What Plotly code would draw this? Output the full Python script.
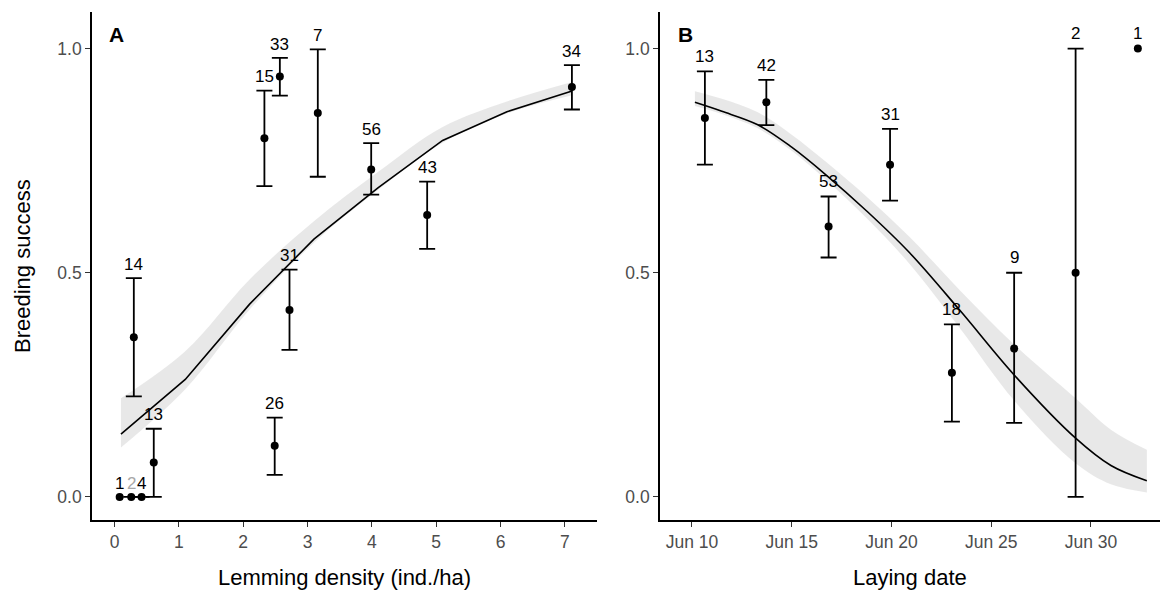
import datetime as dt
import plotly.graph_objects as go

# ---------------- Panel A data ----------------
labels_a = ["1", "2", "4", "13", "14", "15", "26", "33", "31", "7", "56", "43", "34"]
dens_a = [0.08, 0.26, 0.42, 0.61, 0.30, 2.33, 2.49, 2.57, 2.72, 3.16, 3.99, 4.86, 7.11]
succ_a = [0.0, 0.0, 0.0, 0.077, 0.356, 0.80, 0.114, 0.9375, 0.417, 0.856, 0.730, 0.629, 0.914]
lo_a = [None, 0.0, 0.0, 0.0, 0.224, 0.693, 0.049, 0.895, 0.328, 0.714, 0.674, 0.553, 0.864]
hi_a = [None, 0.0, 0.0, 0.152, 0.488, 0.906, 0.177, 0.979, 0.507, 0.998, 0.789, 0.703, 0.963]

fit_x_a = [0.1, 1.1, 2.1, 3.1, 4.1, 5.1, 6.1, 7.1]
fit_y_a = [0.14, 0.262, 0.43, 0.575, 0.69, 0.795, 0.859, 0.905]
rib_lo_a = [0.11, 0.24, 0.418, 0.567, 0.685, 0.79, 0.855, 0.895]
rib_hi_a = [0.22, 0.325, 0.485, 0.615, 0.725, 0.825, 0.882, 0.925]

# ---------------- Panel B data ----------------
labels_b = ["13", "42", "53", "31", "18", "9", "2", "1"]
day_b = [10.65, 13.73, 16.85, 19.93, 23.03, 26.15, 29.23, 32.35]   # day of June
succ_b = [0.845, 0.880, 0.603, 0.741, 0.277, 0.331, 0.5, 1.0]
lo_b = [0.741, 0.829, 0.534, 0.661, 0.168, 0.165, 0.0, None]
hi_b = [0.949, 0.930, 0.670, 0.821, 0.385, 0.5, 1.0, None]

fit_day_b = [10.15, 11.5, 13.3, 15.0, 16.7, 18.8, 20.9, 23.45, 26.15, 29.23, 31.0, 32.8]
fit_y_b = [0.880, 0.860, 0.830, 0.780, 0.719, 0.636, 0.545, 0.415, 0.272, 0.131, 0.070, 0.036]
rib_lo_b = [0.872, 0.854, 0.822, 0.772, 0.708, 0.62, 0.52, 0.375, 0.215, 0.075, 0.028, 0.01]
rib_hi_b = [0.905, 0.888, 0.858, 0.808, 0.748, 0.668, 0.58, 0.46, 0.34, 0.22, 0.15, 0.105]

x_ticks_a = [0, 1, 2, 3, 4, 5, 6, 7]
x_ticks_b = [10, 15, 20, 25, 30]
y_ticks = [0.0, 0.5, 1.0]
y_ticktext = ["0.0", "0.5", "1.0"]


def june(d):
    return dt.datetime(2020, 6, 1) + dt.timedelta(days=d - 1)


fig = go.Figure()

RIB = "rgba(200,200,200,0.42)"
FONT = "Liberation Sans, Arial, sans-serif"

# ---------- ribbons & fits ----------
fig.add_trace(go.Scatter(x=fit_x_a, y=rib_lo_a, mode="lines", line=dict(width=0, shape="spline"),
                         xaxis="x", yaxis="y", showlegend=False, hoverinfo="skip"))
fig.add_trace(go.Scatter(x=fit_x_a, y=rib_hi_a, mode="lines", line=dict(width=0, shape="spline"),
                         fill="tonexty", fillcolor=RIB, xaxis="x", yaxis="y", showlegend=False,
                         hoverinfo="skip"))
fig.add_trace(go.Scatter(x=fit_x_a, y=fit_y_a, mode="lines", line=dict(color="black", width=1.6),
                         xaxis="x", yaxis="y", showlegend=False))

fd = [june(d) for d in fit_day_b]
fig.add_trace(go.Scatter(x=fd, y=rib_lo_b, mode="lines", line=dict(width=0, shape="spline"),
                         xaxis="x2", yaxis="y2", showlegend=False, hoverinfo="skip"))
fig.add_trace(go.Scatter(x=fd, y=rib_hi_b, mode="lines", line=dict(width=0, shape="spline"),
                         fill="tonexty", fillcolor=RIB, xaxis="x2", yaxis="y2", showlegend=False,
                         hoverinfo="skip"))
fig.add_trace(go.Scatter(x=fd, y=fit_y_b, mode="lines", line=dict(color="black", width=1.6, shape="spline"),
                         xaxis="x2", yaxis="y2", showlegend=False))


def add_points(xs, ys, los, his, xa, ya):
    ex, ey, eplus, eminus, nx, ny = [], [], [], [], [], []
    for x, y, lo, hi in zip(xs, ys, los, his):
        if lo is None:
            nx.append(x)
            ny.append(y)
        else:
            ex.append(x)
            ey.append(y)
            eplus.append(hi - y)
            eminus.append(y - lo)
    fig.add_trace(go.Scatter(
        x=ex, y=ey, mode="markers", marker=dict(color="black", size=8),
        error_y=dict(type="data", array=eplus, arrayminus=eminus, color="black",
                     thickness=1.8, width=8, symmetric=False),
        xaxis=xa, yaxis=ya, showlegend=False))
    fig.add_trace(go.Scatter(x=nx, y=ny, mode="markers", marker=dict(color="black", size=8),
                             xaxis=xa, yaxis=ya, showlegend=False))


add_points(dens_a, succ_a, lo_a, hi_a, "x", "y")
add_points([june(d) for d in day_b], succ_b, lo_b, hi_b, "x2", "y2")

annotations = []
for lab, x, y, hi in zip(labels_a, dens_a, succ_a, hi_a):
    top = hi if hi is not None else y
    annotations.append(dict(x=x, y=top + 0.031, xref="x", yref="y", text=lab, showarrow=False,
                            font=dict(size=17, color="#a8a8a8" if lab == "2" else "black", family=FONT),
                            xanchor="center", yanchor="middle"))
for lab, d, y, hi in zip(labels_b, day_b, succ_b, hi_b):
    top = hi if hi is not None else y
    annotations.append(dict(x=june(d), y=top + 0.033, xref="x2", yref="y2", text=lab, showarrow=False,
                            font=dict(size=17, color="black", family=FONT),
                            xanchor="center", yanchor="middle"))

W, H = 1161, 590
annotations += [
    dict(x=116 / W, y=1 - 35 / H, xref="paper", yref="paper", text="<b>A</b>", showarrow=False,
         font=dict(size=21, color="black", family=FONT), xanchor="center", yanchor="middle"),
    dict(x=685 / W, y=1 - 35 / H, xref="paper", yref="paper", text="<b>B</b>", showarrow=False,
         font=dict(size=21, color="black", family=FONT), xanchor="center", yanchor="middle"),
    dict(x=344.5 / W, y=1 - 577 / H, xref="paper", yref="paper", text="Lemming density (ind./ha)",
         showarrow=False, font=dict(size=22, color="black", family=FONT), xanchor="center", yanchor="middle"),
    dict(x=910 / W, y=1 - 577 / H, xref="paper", yref="paper", text="Laying date",
         showarrow=False, font=dict(size=22, color="black", family=FONT), xanchor="center", yanchor="middle"),
    dict(x=22 / W, y=1 - 266 / H, xref="paper", yref="paper", text="Breeding success", textangle=-90,
         showarrow=False, font=dict(size=22, color="black", family=FONT), xanchor="center", yanchor="middle"),
]

axis_common = dict(showline=True, linecolor="black", linewidth=1.6, ticks="outside", ticklen=5,
                   tickwidth=1.2, tickcolor="#333333", showgrid=False, zeroline=False,
                   tickfont=dict(size=17.5, color="#4d4d4d", family=FONT))
y_dom = [1 - 520 / H, 1 - 12 / H]

fig.update_layout(
    width=W, height=H, margin=dict(l=0, r=0, t=0, b=0),
    paper_bgcolor="white", plot_bgcolor="white", showlegend=False,
    font=dict(family=FONT),
    xaxis=dict(domain=[92 / W, 597 / W], range=[-0.35, 7.5], tickvals=x_ticks_a, anchor="y", **axis_common),
    yaxis=dict(domain=y_dom, range=[-0.0515, 1.0815], tickvals=y_ticks, ticktext=y_ticktext,
               anchor="x", **axis_common),
    xaxis2=dict(domain=[660 / W, 1160 / W], type="date", range=[june(8.40), june(33.46)],
                tickvals=[june(d) for d in x_ticks_b], tickformat="%b %d", anchor="y2", **axis_common),
    yaxis2=dict(domain=y_dom, range=[-0.0515, 1.0815], tickvals=y_ticks, ticktext=y_ticktext,
                anchor="x2", **axis_common),
    annotations=annotations,
)

fig.write_html("out.html")
